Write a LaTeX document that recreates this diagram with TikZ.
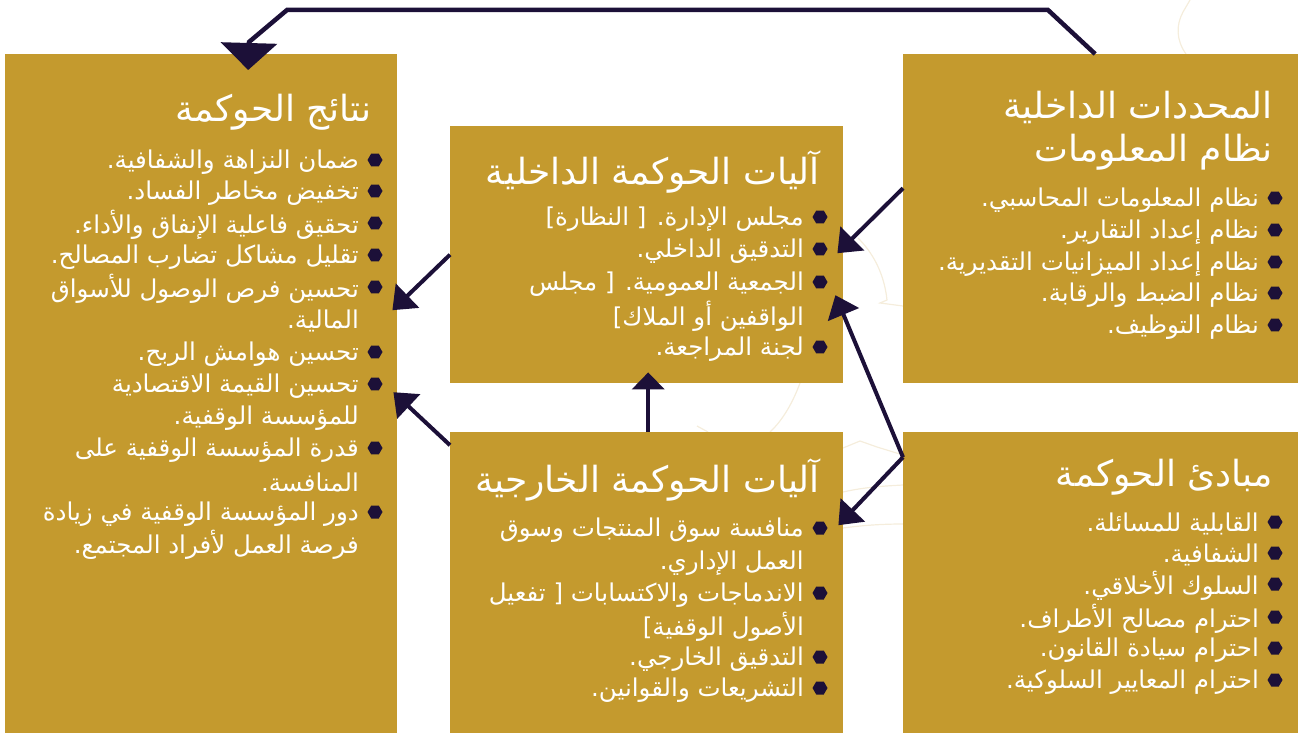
\documentclass[tikz,border=0pt]{standalone}
\usepackage{fontspec}
\usetikzlibrary{arrows.meta,shapes.geometric}
\TeXXeTstate=1
\newfontfamily\arabicfont[Script=Arabic]{DejaVu Sans}
\definecolor{gold}{HTML}{C49A2E}
\definecolor{navy}{HTML}{1C1038}
\definecolor{cream}{HTML}{F5EDDC}

\begin{document}
\begin{tikzpicture}[x=1pt,y=-1pt,
    box/.style={fill=gold, draw=none, inner sep=0pt, anchor=north west},
    ttl/.style={anchor=east, text=white, inner sep=0pt, font=\arabicfont\fontsize{36}{44}\selectfont},
    item/.style={anchor=east, text=white, inner sep=0pt, yshift=-2pt, font=\arabicfont\fontsize{24.5}{30}\selectfont},
    dot/.style={regular polygon, regular polygon sides=6, fill=navy, inner sep=0pt, minimum size=15pt},
    link/.style={navy, line width=4pt, -{Triangle[length=21pt,width=33pt]}},
    ornament/.style={cream, line width=1.2pt}]

    \useasboundingbox (0,0) rectangle (1298,733);

    %Faint ornament behind the boxes
    \draw[ornament] (1190,0) -- (1183,12) .. controls (1176,25) and (1176,40) .. (1186,54);
    \draw[ornament] (858,238) .. controls (872,252) and (884,272) .. (887,300) -- (880,303) -- (903,306);
    \draw[ornament] (843,448) -- (860,441) -- (877,447) -- (903,455);
    \draw[ornament] (843,492) .. controls (865,487) and (885,486) .. (903,485);
    \draw[ornament] (843,528) .. controls (865,525) and (885,524) .. (903,524);
    \draw[ornament] (800,383) .. controls (793,402) and (783,420) .. (770,432);
    \draw[ornament] (697,426) -- (708,432);

    %The five boxes
    \node[box, minimum width=392pt, minimum height=679pt] (res) at (5,54) {};
    \node[box, minimum width=393pt, minimum height=257pt] (mechin) at (450,126) {};
    \node[box, minimum width=393pt, minimum height=301pt] (mechout) at (450,432) {};
    \node[box, minimum width=395pt, minimum height=329pt] (det) at (903,54) {};
    \node[box, minimum width=395pt, minimum height=301pt] (prin) at (903,432) {};

    %Results of governance (left)
    \node[ttl] (res-t) at (372,112) {\beginR نتائج الحوكمة\endR};
    \foreach \y/\t [count=\i] in {160/{ضمان النزاهة والشفافية.},
                                  191/{تخفيض مخاطر الفساد.},
                                  223/{تحقيق فاعلية الإنفاق والأداء.},
                                  255/{تقليل مشاكل تضارب المصالح.},
                                  287/{تحسين فرص الوصول للأسواق},
                                  352/{تحسين هوامش الربح.},
                                  384/{تحسين القيمة الاقتصادية},
                                  448/{قدرة المؤسسة الوقفية على},
                                  512/{دور  المؤسسة الوقفية في زيادة}}
    {
        \node[dot] (res-b\i) at (375,\y) {};
        \node[item] (res-i\i) at (359,\y) {\beginR\t\endR};
    }
    \foreach \y/\t [count=\i] in {319/{المالية.},
                                  416/{للمؤسسة الوقفية.},
                                  480/{المنافسة.},
                                  543/{فرصة العمل لأفراد المجتمع.}}
        \node[item] (res-c\i) at (359,\y) {\beginR\t\endR};

    %Internal mechanisms (middle top)
    \node[ttl] (mechin-t) at (820,172) {\beginR آليات الحوكمة الداخلية\endR};
    \foreach \y/\t [count=\i] in {217/{مجلس الإدارة. [ النظارة]},
                                  249/{التدقيق الداخلي.},
                                  282/{الجمعية العمومية.  [ مجلس},
                                  347/{لجنة المراجعة.}}
    {
        \node[dot] (mechin-b\i) at (820,\y) {};
        \node[item] (mechin-i\i) at (804,\y) {\beginR\t\endR};
    }
    \node[item] (mechin-c1) at (804,314) {\beginR الواقفين أو الملاك]\endR};

    %External mechanisms (middle bottom)
    \node[ttl] (mechout-t) at (820,480) {\beginR آليات الحوكمة الخارجية\endR};
    \foreach \y/\t [count=\i] in {528/{منافسة سوق المنتجات وسوق},
                                  593/{الاندماجات والاكتسابات [ تفعيل},
                                  657/{التدقيق الخارجي.},
                                  688/{التشريعات والقوانين.}}
    {
        \node[dot] (mechout-b\i) at (820,\y) {};
        \node[item] (mechout-i\i) at (804,\y) {\beginR\t\endR};
    }
    \node[item] (mechout-c1) at (804,561) {\beginR العمل الإداري.\endR};
    \node[item] (mechout-c2) at (804,625) {\beginR الأصول الوقفية]\endR};

    %Internal determinants (right top)
    \node[ttl] (det-t1) at (1273,107) {\beginR المحددات الداخلية\endR};
    \node[ttl] (det-t2) at (1273,152) {\beginR نظام المعلومات\endR};
    \foreach \y/\t [count=\i] in {198/{نظام المعلومات المحاسبي.},
                                  230/{نظام  إعداد التقارير.},
                                  262/{نظام إعداد الميزانيات التقديرية.},
                                  293/{نظام الضبط والرقابة.},
                                  325/{نظام التوظيف.}}
    {
        \node[dot] (det-b\i) at (1275,\y) {};
        \node[item] (det-i\i) at (1259,\y) {\beginR\t\endR};
    }

    %Principles of governance (right bottom)
    \node[ttl] (prin-t) at (1273,477) {\beginR مبادئ الحوكمة\endR};
    \foreach \y/\t [count=\i] in {522/{القابلية للمسائلة.},
                                  553/{الشفافية.},
                                  584/{السلوك الأخلاقي.},
                                  617/{احترام مصالح الأطراف.},
                                  648/{احترام سيادة القانون.},
                                  680/{احترام المعايير السلوكية.}}
    {
        \node[dot] (prin-b\i) at (1275,\y) {};
        \node[item] (prin-i\i) at (1259,\y) {\beginR\t\endR};
    }

    %Connectors
    \coordinate (k1) at (1048,10);
    \coordinate (k2) at (287,10);
    \coordinate (k3) at (249,42);
    \draw[navy, line width=4.5pt, -{Triangle[length=27pt,width=56pt]}]
        ([xshift=-5.5pt]det.north) -- (k1) -- (k2) -- (k3) -- ([xshift=47pt,yshift=-16pt]res.north);
    \draw[link] ([yshift=30.5pt]det.west) -- ([xshift=-6pt,yshift=1.5pt]mechin.east);
    \draw[link] ([yshift=125.5pt]prin.west) -- ([xshift=-8pt,yshift=-40.5pt]mechin.east);
    \draw[link] ([yshift=125.5pt]prin.west) -- ([xshift=-5pt,yshift=57.5pt]mechout.east);
    \draw[link] (mechin.west) -- ([xshift=-5pt,yshift=83.5pt]res.east);
    \draw[link] ([yshift=137.5pt]mechout.west) -- ([xshift=-4pt,yshift=1.5pt]res.east);
    \draw[link, -{Triangle[length=17pt,width=32pt]}] ([xshift=1.5pt]mechout.north) -- ([xshift=1.5pt,yshift=11pt]mechin.south);

\end{tikzpicture}
\end{document}
